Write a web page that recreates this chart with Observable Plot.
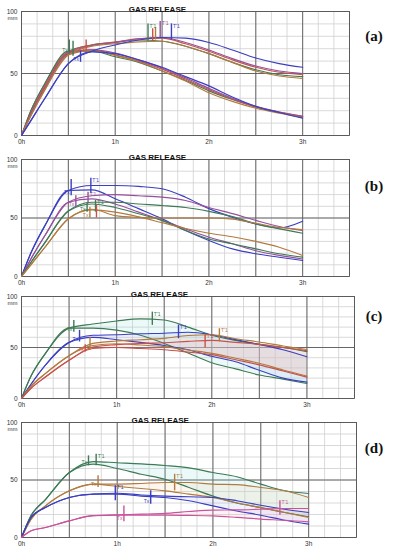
<!DOCTYPE html>
<html><head><meta charset="utf-8">
<script src="https://cdn.jsdelivr.net/npm/d3@7"></script>
<script src="https://cdn.jsdelivr.net/npm/@observablehq/plot@0.6"></script>
<style>
body{margin:0;background:#fff;}
#wrap{position:relative;width:397px;height:550px;overflow:hidden;background:#fff;}
.panel{position:absolute;left:0;}
.tag{position:absolute;transform:translate(-50%,-50%);font-family:"Liberation Serif","Times New Roman",serif;font-weight:bold;font-size:15px;color:#111;white-space:nowrap;}
</style></head><body><div id="wrap"></div>
<script>
// ---- shared ----
const hours = [0, 0.1, 0.25, 0.5, 0.75, 1, 1.25, 1.5, 1.75, 2, 2.25, 2.5, 2.75, 3];
const hourLabels = [0, 1, 2, 3];
const mmLabels = [0, 50, 100];
const title = "GAS RELEASE";
const unit = "mm";
const sampleNames = ["S-green", "S-blue", "S-purple", "S-red", "S-brown", "S-pink"];

// ---- panel (a) ----
const aGreenTotal    = [0, 20, 42, 68, 73, 75, 77, 76, 72, 66, 59, 53, 49, 47.5];
const aGreenRetained = [0, 20, 42, 68, 68, 63.5, 59, 52, 44.5, 36, 29, 23, 18.5, 15];
const aRedTotal      = [0, 18, 40, 67, 73, 75.5, 78, 78.5, 74, 68, 61, 55, 51, 49];
const aRedRetained   = [0, 18, 40, 67, 69, 65, 60, 53.5, 45.5, 37, 29.5, 23, 19, 15.5];
const aPurpleTotal   = [0, 17, 38, 66, 72.5, 75, 78, 79, 75, 69, 62, 56, 52, 50];
const aPurpleRetained= [0, 17, 38, 66, 69, 66.5, 61, 54.5, 46.5, 38, 30, 23.5, 19, 15.5];
const aBrownTotal    = [0, 16, 37, 65, 72, 74, 75.5, 76, 72, 66, 59, 52, 48, 46];
const aBrownRetained = [0, 16, 37, 65, 68.5, 64.5, 59.5, 52, 44, 34.5, 27.5, 22, 18, 14.5];
const aBlueTotal     = [0, 12, 30, 58, 68, 73, 77, 79, 78.5, 75, 69, 62.5, 58, 55];
const aBlueRetained  = [0, 12, 30, 58, 67.5, 66, 61, 55, 47.5, 40, 31, 23.5, 18.5, 14];
const aMarkSample  = ["S-green", "S-green", "S-blue", "S-red", "S-green", "S-red", "S-brown", "S-purple", "S-blue"];
const aMarkKind    = ["Tx", "Tx", "Tx", "Tx", "T'1", "T'1", "T'1", "T'1", "T'1"];
const aMarkHour    = [0.51, 0.55, 0.63, 0.69, 1.35, 1.40, 1.43, 1.48, 1.60];
const aMarkLow     = [66, 64, 59, 67, 76, 76, 77, 79, 77];
const aMarkHigh    = [77, 76, 68, 77, 90, 86, 87, 92, 90];
const aMarkLabeled = [true, false, true, true, true, false, false, true, true];

// ---- panel (b) ----
const bBlueTotal     = [0, 20, 43.5, 73.5, 77.8, 77.8, 77, 75, 67.8, 58, 50.7, 45, 41.6, 47.3];
const bBlueRetained  = [0, 20, 43.5, 73.5, 74, 66.4, 58, 49.4, 39.3, 30.8, 23.6, 19.4, 16.5, 13.7];
const bPurpleTotal   = [0, 15, 35, 63.5, 69, 70, 69, 67.8, 65, 59, 53.7, 48, 42.7, 39.3];
const bPurpleRetained= [0, 15, 35, 63.5, 66.4, 62, 55, 48, 40.7, 33.6, 28, 22, 18, 15];
const bGreenTotal    = [0, 12, 29, 56, 63.5, 63.5, 62, 60.7, 59, 55.7, 51.3, 45, 40.7, 37];
const bGreenRetained = [0, 12, 29, 56, 62, 59, 53.6, 48, 39.3, 32, 28, 23.6, 19.4, 16.5];
const bBrownTotal    = [0, 10, 25, 49.4, 57.5, 52, 50.5, 50, 50, 50, 49, 45.5, 42, 40];
const bBrownRetained = [0, 10, 25, 49.4, 57, 55, 51, 46, 41, 37, 34, 30, 25, 18];
const bMarkSample  = ["S-blue", "S-blue", "S-purple", "S-purple", "S-green", "S-green", "S-brown", "S-red"];
const bMarkKind    = ["Tx", "T'1", "Tx", "T'1", "Tx", "T'1", "Tx", "T'1"];
const bMarkHour    = [0.53, 0.74, 0.58, 0.71, 0.70, 0.79, 0.73, 0.80];
const bMarkLow     = [69, 71, 59, 62, 55, 55, 50, 50];
const bMarkHigh    = [83, 84, 69, 72, 63, 65, 59, 61];
const bMarkLabeled = [true, true, true, true, true, true, true, false];

// ---- panel (c) ----
const cGreenTotal    = [0, 22, 44, 69, 73, 76, 78, 77, 70, 62, 57, 53, 50, 46];
const cGreenRetained = [0, 22, 44, 69, 69, 67, 62, 54, 44.6, 35, 29, 23, 19, 14.7];
const cBlueTotal     = [0, 14, 32.6, 55, 62, 62.5, 63.5, 64, 65, 62.5, 57.7, 53, 47.8, 41];
const cBlueRetained  = [0, 14, 32.6, 55, 60, 57.6, 55, 52, 47.8, 41.4, 36, 27.7, 20, 16];
const cBrownTotal    = [0, 12, 24.4, 42, 54, 56.4, 57.6, 59, 61.8, 62.5, 58.6, 55.4, 51.5, 48];
const cBrownRetained = [0, 12, 24.4, 42, 52, 53.7, 52.5, 50.8, 47.5, 44.3, 39.5, 34.5, 28, 22];
const cRedTotal      = [0, 10, 21, 37.5, 50.5, 52.8, 54, 54.7, 56, 57, 55, 53, 50, 47];
const cRedRetained   = [0, 10, 21, 37.5, 49, 50, 49, 47.8, 45.5, 43, 38, 33, 27, 21];
const cMarkSample  = ["S-green", "S-green", "S-blue", "S-blue", "S-red", "S-brown", "S-red", "S-brown"];
const cMarkKind    = ["Tx", "T'1", "Tx", "T'1", "Tx", "Tx", "T'1", "T'1"];
const cMarkHour    = [0.55, 1.375, 0.61, 1.65, 0.67, 0.72, 1.93, 2.08];
const cMarkLow     = [65, 71.7, 55.4, 58.6, 45.6, 47, 49.5, 55.4];
const cMarkHigh    = [76.5, 84.7, 66.8, 72, 52.8, 60, 62.5, 68.4];
const cMarkLabeled = [true, true, true, true, true, false, true, true];

// ---- panel (d) ----
const dGreenTotal    = [0, 19, 33, 56.5, 66, 65, 64, 62.6, 60.6, 56.5, 52.8, 46.4, 40.6, 38.3];
const dGreenRetained = [0, 19, 33, 56.5, 63.8, 60, 55, 50.7, 43.5, 36, 30, 26, 21.7, 18];
const dBrownTotal    = [0, 16, 27.5, 40.6, 46.4, 46.4, 47, 47.8, 47.8, 46.4, 46, 43.5, 40.6, 34.8];
const dBrownRetained = [0, 16, 27.5, 40.6, 46.4, 44.4, 42.6, 40.6, 37.7, 34.8, 30, 26, 21.7, 17.4];
const dBlueTotal     = [0, 17.4, 26, 34.8, 37.7, 38.5, 37, 36, 35.4, 34.8, 32, 28, 24.6, 21.7];
const dBlueRetained  = [0, 17.4, 26, 34.8, 37.7, 37.7, 36, 34.8, 32, 27.5, 23, 19.4, 15, 11.6];
const dPinkTotal     = [0, 5.8, 8.7, 14.5, 19, 19.7, 20.3, 21, 22.6, 23.8, 24, 24.6, 25.2, 25.2];
const dPinkRetained  = [0, 5.8, 8.7, 14.5, 19, 19.5, 19.4, 19.4, 19.2, 18.8, 17.5, 16, 15, 13.6];
const dMarkSample  = ["S-green", "S-green", "S-brown", "S-brown", "S-blue", "S-blue", "S-pink", "S-pink"];
const dMarkKind    = ["Tx", "T'1", "Tx", "T'1", "T'1", "Tx", "Tx", "T'1"];
const dMarkHour    = [0.70, 0.78, 0.80, 1.60, 0.98, 1.35, 1.07, 2.70];
const dMarkLow     = [62.3, 62.3, 43.5, 40.6, 32, 29, 13.6, 19.4];
const dMarkHigh    = [71, 72.5, 53.6, 55, 45, 40.6, 27.5, 32];
const dMarkLabeled = [true, true, true, true, true, true, true, true];

// ---- styling (not data) ----
const sampleColors = ["#3d7a55", "#3b3fc0", "#96509c", "#c8524a", "#b27a3e", "#c9549a"];
const shadeColors  = ["#8fe6dc", "#a9b4f0", "#ecb0ec", "#f7b3c3", "#f4cfa4", "#f8b6d4"];

function pairs(list) {
  return list.map(([sample, total, retained]) => ({sample, total, retained}));
}
function markRows(S, K, H, L, Hi, Lab) {
  return S.map((s, i) => ({sample: s, kind: K[i], hour: H[i], low: L[i], high: Hi[i], labeled: Lab[i]}));
}

function makePanel(cfg) {
  const mt = 11, mb = 13;
  const plotH = cfg.bottom - cfg.top;
  const lineRows = [];
  const bandRows = [];
  for (const p of cfg.samples) {
    p.total.forEach((v, i) => lineRows.push({sample: p.sample, kind: "total", hour: hours[i], mm: v}));
    p.retained.forEach((v, i) => lineRows.push({sample: p.sample, kind: "retained", hour: hours[i], mm: v}));
    p.total.forEach((v, i) => bandRows.push({sample: p.sample, hour: hours[i], hi: v, lo: p.retained[i]}));
  }
  const minorX = d3.range(0, 22).map(i => i / 6);
  const minorY = d3.range(0, 11).map(i => i * 10);
  const majorX = d3.range(0, 8).map(i => i / 2);
  const marks = [
    Plot.ruleX(minorX, {stroke: "#cfcfcf", strokeWidth: 0.8}),
    Plot.ruleY(minorY, {stroke: "#cfcfcf", strokeWidth: 0.8}),
    Plot.ruleX(majorX, {stroke: "#5a5a5a", strokeWidth: 0.9}),
    Plot.ruleY(mmLabels, {stroke: "#5a5a5a", strokeWidth: 0.9}),
    Plot.frame({stroke: "#5a5a5a", strokeWidth: 0.9})
  ];
  if (cfg.shade) {
    marks.push(Plot.areaY(bandRows, {x: "hour", y1: "lo", y2: "hi", z: "sample",
      fill: d => shadeColors[sampleNames.indexOf(d.sample)], fillOpacity: 0.18, curve: "monotone-x"}));
  }
  const labeled = cfg.markers.filter(d => d.labeled);
  marks.push(
    Plot.line(lineRows, {x: "hour", y: "mm", z: d => d.sample + d.kind, stroke: "sample",
      strokeWidth: 1.15, curve: "monotone-x"}),
    Plot.ruleX(cfg.markers, {x: "hour", y1: "low", y2: "high", stroke: "sample", strokeWidth: 1.4}),
    Plot.text(labeled.filter(d => d.kind === "Tx"), {x: "hour", y: "low", text: "kind",
      fill: "sample", fontSize: 5, textAnchor: "end", dx: -1.5, dy: -3}),
    Plot.text(labeled.filter(d => d.kind !== "Tx"), {x: "hour", y: "high", text: "kind",
      fill: "sample", fontSize: 5, textAnchor: "start", dx: 1.5, dy: 2}),
    Plot.text([title], {x: () => 1.45, frameAnchor: "top", dy: -5.5, fontWeight: "bold",
      fontSize: 8, fill: "#111"}),
    Plot.text([unit], {x: () => 0, y: () => 100, dx: -4, dy: 7, textAnchor: "end",
      fontSize: 6, fill: "#333"})
  );
  const svg = Plot.plot({
    width: 397,
    height: mt + plotH + mb,
    marginLeft: 21, marginRight: 397 - cfg.right, marginTop: mt, marginBottom: mb,
    style: {background: "transparent", fontFamily: "'Liberation Sans', Arial, sans-serif", fontSize: "6.5px", color: "#333"},
    x: {domain: [0, 3.5], ticks: hourLabels, tickFormat: d => d + "h", tickSize: 0, tickPadding: 4, label: null},
    y: {domain: [0, 100], ticks: mmLabels, tickSize: 0, tickPadding: 4, label: null},
    color: {type: "ordinal", domain: sampleNames, range: sampleColors},
    marks
  });
  const div = document.createElement("div");
  div.className = "panel";
  div.style.top = (cfg.top - mt) + "px";
  div.appendChild(svg);
  document.getElementById("wrap").appendChild(div);
  const tag = document.createElement("div");
  tag.className = "tag";
  tag.textContent = cfg.tag;
  tag.style.left = "374px";
  tag.style.top = cfg.tagY + "px";
  document.getElementById("wrap").appendChild(tag);
}

makePanel({
  top: 11, bottom: 135, right: 349, tag: "(a)", tagY: 36, shade: false,
  samples: pairs([["S-green", aGreenTotal, aGreenRetained], ["S-red", aRedTotal, aRedRetained],
    ["S-purple", aPurpleTotal, aPurpleRetained], ["S-brown", aBrownTotal, aBrownRetained],
    ["S-blue", aBlueTotal, aBlueRetained]]),
  markers: markRows(aMarkSample, aMarkKind, aMarkHour, aMarkLow, aMarkHigh, aMarkLabeled)
});
makePanel({
  top: 159, bottom: 276, right: 349, tag: "(b)", tagY: 186, shade: false,
  samples: pairs([["S-blue", bBlueTotal, bBlueRetained], ["S-purple", bPurpleTotal, bPurpleRetained],
    ["S-green", bGreenTotal, bGreenRetained], ["S-brown", bBrownTotal, bBrownRetained]]),
  markers: markRows(bMarkSample, bMarkKind, bMarkHour, bMarkLow, bMarkHigh, bMarkLabeled)
});
makePanel({
  top: 296, bottom: 398, right: 354, tag: "(c)", tagY: 316, shade: true,
  samples: pairs([["S-green", cGreenTotal, cGreenRetained], ["S-blue", cBlueTotal, cBlueRetained],
    ["S-brown", cBrownTotal, cBrownRetained], ["S-red", cRedTotal, cRedRetained]]),
  markers: markRows(cMarkSample, cMarkKind, cMarkHour, cMarkLow, cMarkHigh, cMarkLabeled)
});
makePanel({
  top: 422, bottom: 537, right: 356, tag: "(d)", tagY: 448, shade: true,
  samples: pairs([["S-green", dGreenTotal, dGreenRetained], ["S-brown", dBrownTotal, dBrownRetained],
    ["S-blue", dBlueTotal, dBlueRetained], ["S-pink", dPinkTotal, dPinkRetained]]),
  markers: markRows(dMarkSample, dMarkKind, dMarkHour, dMarkLow, dMarkHigh, dMarkLabeled)
});
</script></body></html>
